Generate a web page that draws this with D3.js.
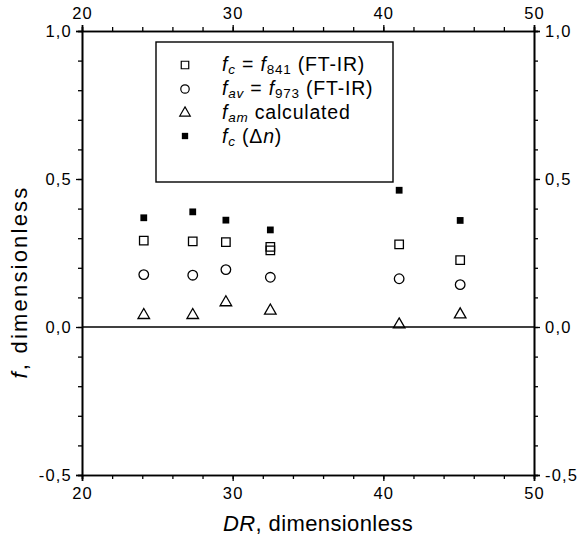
<!DOCTYPE html>
<html><head><meta charset="utf-8">
<script src="https://cdnjs.cloudflare.com/ajax/libs/d3/7.8.5/d3.min.js"></script>
<style>body{margin:0;background:#fff}svg{display:block}text{font-family:"Liberation Sans",Arial,Helvetica,sans-serif;fill:#000}</style>
</head><body><svg id="c" width="579" height="542"></svg>
<script>
// Data
const drValues = [24.1, 27.35, 29.55, 32.5, 32.5, 41.05, 45.1];
const fcFTIR   = [0.292, 0.289, 0.287, 0.271, 0.259, 0.279, 0.226];   // open squares
const dr2      = [24.1, 27.35, 29.55, 32.5, 41.05, 45.1];
const favFTIR  = [0.177, 0.175, 0.194, 0.168, 0.163, 0.143];          // circles
const famCalc  = [0.040, 0.040, 0.083, 0.055, 0.008, 0.042];          // triangles
const fcDn     = [0.369, 0.389, 0.361, 0.328, 0.462, 0.360];          // filled squares
const xTicks = [20, 30, 40, 50];
const yTicks = [-0.5, 0.0, 0.5, 1.0];
const yTickLabels = ["-0,5", "0,0", "0,5", "1,0"];

const svg = d3.select("#c");
const L = 82, R = 534, T = 31, B = 475;
const x = d3.scaleLinear().domain([20, 50]).range([L, R]);
const y = d3.scaleLinear().domain([-0.5, 1.0]).range([B, T]);

const minorX = d3.range(20, 50.01, 2);
const minorY = d3.range(-0.5, 1.001, 0.1).map(v => +v.toFixed(2));

function styleAxis(g) {
  g.selectAll("path").attr("stroke", "#000").attr("stroke-width", 1.6);
  g.selectAll("line").attr("stroke", "#000").attr("stroke-width", 1.3);
  g.selectAll("text").style("font-size", "16.5px").style("letter-spacing", "1.2px").attr("fill", "#000");
}
// minor ticks
svg.append("g").attr("transform", `translate(0,${B})`).call(d3.axisBottom(x).tickValues(minorX).tickSize(4).tickFormat("")).call(styleAxis);
svg.append("g").attr("transform", `translate(0,${T})`).call(d3.axisTop(x).tickValues(minorX).tickSize(4).tickFormat("")).call(styleAxis);
svg.append("g").attr("transform", `translate(${L},0)`).call(d3.axisLeft(y).tickValues(minorY).tickSize(4).tickFormat("")).call(styleAxis);
svg.append("g").attr("transform", `translate(${R},0)`).call(d3.axisRight(y).tickValues(minorY).tickSize(4).tickFormat("")).call(styleAxis);
// major ticks
svg.append("g").attr("transform", `translate(0,${B})`).call(d3.axisBottom(x).tickValues(xTicks).tickSize(6).tickPadding(6).tickFormat(d3.format("d"))).call(styleAxis);
svg.append("g").attr("transform", `translate(0,${T})`).call(d3.axisTop(x).tickValues(xTicks).tickSize(6).tickPadding(6).tickFormat(d3.format("d"))).call(styleAxis);
const yFmt = d => yTickLabels[yTicks.indexOf(d)];
svg.append("g").attr("transform", `translate(${L},0)`).call(d3.axisLeft(y).tickValues(yTicks).tickSize(6).tickPadding(4).tickFormat(yFmt)).call(styleAxis);
svg.append("g").attr("transform", `translate(${R},0)`).call(d3.axisRight(y).tickValues(yTicks).tickSize(6).tickPadding(5).tickFormat(yFmt)).call(styleAxis);

// zero line
svg.append("line").attr("x1", L).attr("x2", R).attr("y1", y(0)).attr("y2", y(0)).attr("stroke", "#000").attr("stroke-width", 1.4);

// markers
const sq = d3.symbol().type(d3.symbolSquare).size(72);
const ci = d3.symbol().type(d3.symbolCircle).size(72);
const tr = d3.symbol().type(d3.symbolTriangle).size(58);
const fsq = d3.symbol().type(d3.symbolSquare).size(46);

const pts = svg.append("g");
pts.selectAll(".osq").data(drValues.map((d, i) => [d, fcFTIR[i]])).join("path")
  .attr("d", sq).attr("transform", d => `translate(${x(d[0])},${y(d[1])})`).attr("fill", "none").attr("stroke", "#000").attr("stroke-width", 1.3);
pts.selectAll(".ci").data(dr2.map((d, i) => [d, favFTIR[i]])).join("path")
  .attr("d", ci).attr("transform", d => `translate(${x(d[0])},${y(d[1])})`).attr("fill", "none").attr("stroke", "#000").attr("stroke-width", 1.3);
pts.selectAll(".tr").data(dr2.map((d, i) => [d, famCalc[i]])).join("path")
  .attr("d", tr).attr("transform", d => `translate(${x(d[0])},${y(d[1])})`).attr("fill", "none").attr("stroke", "#000").attr("stroke-width", 1.3);
pts.selectAll(".fsq").data(dr2.map((d, i) => [d, fcDn[i]])).join("path")
  .attr("d", fsq).attr("transform", d => `translate(${x(d[0])},${y(d[1])})`).attr("fill", "#000");

// legend
const lg = svg.append("g");
lg.append("rect").attr("x", 156).attr("y", 42).attr("width", 237).attr("height", 140).attr("fill", "#fff").attr("stroke", "#000").attr("stroke-width", 1.4);
const rows = [65, 89, 113, 137];
const lx = 185, tx = 222;
const lsq = d3.symbol().type(d3.symbolSquare).size(56);
const lci = d3.symbol().type(d3.symbolCircle).size(56);
const ltr = d3.symbol().type(d3.symbolTriangle).size(48);
const lfsq = d3.symbol().type(d3.symbolSquare).size(40);
lg.append("path").attr("d", lsq).attr("transform", `translate(${lx},${rows[0]})`).attr("fill", "none").attr("stroke", "#000").attr("stroke-width", 1.2);
lg.append("path").attr("d", lci).attr("transform", `translate(${lx},${rows[1]})`).attr("fill", "none").attr("stroke", "#000").attr("stroke-width", 1.2);
lg.append("path").attr("d", ltr).attr("transform", `translate(${lx},${rows[2]})`).attr("fill", "none").attr("stroke", "#000").attr("stroke-width", 1.2);
lg.append("path").attr("d", lfsq).attr("transform", `translate(${lx},${rows[3] - 1})`).attr("fill", "#000");

function legendText(yy, parts) {
  const t = lg.append("text").attr("x", tx).attr("y", yy + 6).style("font-size", "19.5px").style("letter-spacing", "0.8px");
  parts.forEach(p => {
    const s = t.append("tspan").text(p.t);
    if (p.i) s.style("font-style", "italic");
    if (p.sub) s.style("font-size", "13.5px").attr("dy", 3);
    if (p.up) s.attr("dy", -3);
  });
}
legendText(rows[0], [{t:"f",i:1},{t:"c",i:1,sub:1},{t:" = ",up:1},{t:"f",i:1},{t:"841",sub:1},{t:" (FT-IR)",up:1}]);
legendText(rows[1], [{t:"f",i:1},{t:"av",i:1,sub:1},{t:" = ",up:1},{t:"f",i:1},{t:"973",sub:1},{t:" (FT-IR)",up:1}]);
legendText(rows[2], [{t:"f",i:1},{t:"am",i:1,sub:1},{t:" calculated",up:1}]);
legendText(rows[3], [{t:"f",i:1},{t:"c",i:1,sub:1},{t:" (Δ",up:1},{t:"n",i:1},{t:")"}]);

// axis titles
const xt = svg.append("text").attr("x", 318).attr("y", 531).attr("text-anchor", "middle").style("font-size", "22px").style("letter-spacing", "0.4px");
xt.append("tspan").text("DR").style("font-style", "italic");
xt.append("tspan").text(", dimensionless");
const yt = svg.append("text").attr("transform", `translate(27,282) rotate(-90)`).attr("text-anchor", "middle").style("font-size", "22px").style("letter-spacing", "2.2px");
yt.append("tspan").text("f").style("font-style", "italic");
yt.append("tspan").text(", dimensionless");
</script></body></html>
